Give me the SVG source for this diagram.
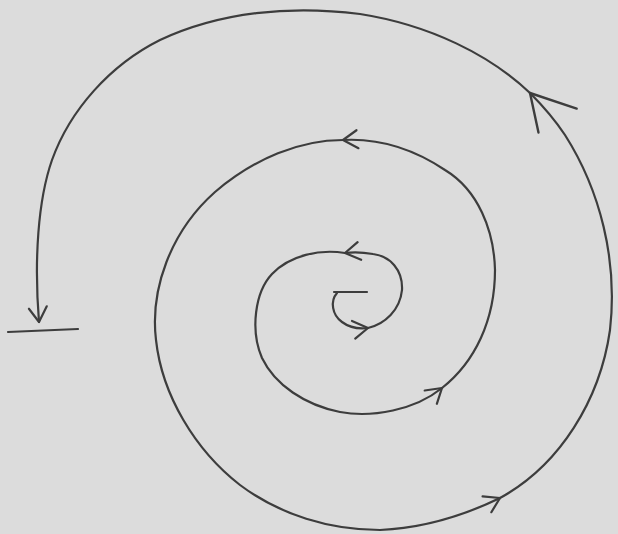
<svg xmlns="http://www.w3.org/2000/svg" width="618" height="534" viewBox="0 0 618 534">
  <style>
    .ln { fill: none; stroke: #3d3d3d; stroke-width: 2.2; stroke-linecap: round; stroke-linejoin: round; }
    .arr { marker-end: url(#v); }
    .arrL { marker-end: url(#vL); }
  </style>
  <defs>
    <marker id="v" markerUnits="userSpaceOnUse" viewBox="-20 -14 24 28" refX="0" refY="0" markerWidth="24" markerHeight="28" orient="auto">
      <path d="M-15,-9 L0,0 L-14,9" fill="none" stroke="#3d3d3d" stroke-width="2.2" stroke-linecap="round" stroke-linejoin="round"/>
    </marker>
    <marker id="vL" markerUnits="userSpaceOnUse" viewBox="-50 -30 56 60" refX="0" refY="0" markerWidth="56" markerHeight="60" orient="auto">
      <path d="M-34,-22 L0,0 L-44,22" fill="none" stroke="#3d3d3d" stroke-width="2.4" stroke-linecap="round" stroke-linejoin="round"/>
    </marker>
  </defs>
  <rect x="0" y="0" width="618" height="534" fill="#dcdcdc"/>
  <g id="connectors">
    <path class="ln" d="M334,292 L367,292"/>
    <path class="ln arr" d="M337,293 C330,301 332,315 342,322 C350,328 360,329 368,328"/>
    <path class="ln arr" d="M368,328 C385,324 400,310 402,290 C403,270 390,256 373,254 C362,252 352,252 345,253"/>
    <path class="ln arr" d="M345,253 C320,249 290,255 272,274 C255,292 250,330 262,358 C275,385 305,405 340,412 C372,418 415,410 442,388"/>
    <path class="ln arr" d="M442,388 C475,362 495,320 495,270 C494,230 478,190 445,170 C415,150 380,138 343,140"/>
    <path class="ln arr" d="M343,140 C300,140 255,158 215,192 C170,232 150,290 156,340 C162,395 195,450 240,485 C280,515 330,530 380,530 C425,528 465,515 500,498"/>
    <path class="ln arrL" d="M500,498 C560,465 600,400 610,330 C618,260 600,190 565,135 C553,117 542,105 530,93"/>
    <path class="ln arr" d="M530,93 C490,55 430,25 360,14 C290,5 220,12 160,40 C110,65 70,110 52,160 C38,200 34,260 39,322"/>
    <path class="ln" d="M8,332 L78,329"/>
  </g>
</svg>
